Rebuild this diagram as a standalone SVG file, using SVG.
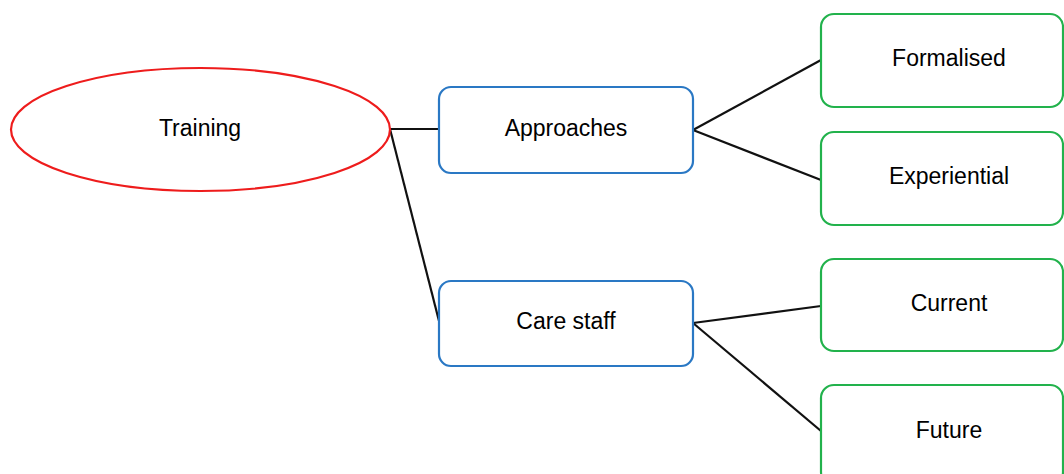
<svg xmlns="http://www.w3.org/2000/svg" width="1064" height="474" viewBox="0 0 1064 474">
<style>
.lbl{font-family:"Liberation Sans","Open Sans",Arial,sans-serif;font-size:23px;fill:#000;text-anchor:middle;dominant-baseline:central}
.blue{fill:#fff;stroke:#2a78c4;stroke-width:2.2}
.green{fill:#fff;stroke:#22b24c;stroke-width:2.2}
.conn{stroke:#111;stroke-width:2.2;fill:none}
</style>
<rect width="1064" height="474" fill="#fff"/>
<g id="connectors">
<line class="conn" x1="390" y1="129" x2="439" y2="129"/>
<line class="conn" x1="390" y1="129" x2="439" y2="321"/>
<line class="conn" x1="693" y1="130" x2="821" y2="60"/>
<line class="conn" x1="693" y1="130" x2="821" y2="180"/>
<line class="conn" x1="693" y1="323" x2="821" y2="306"/>
<line class="conn" x1="693" y1="323" x2="821" y2="431"/>
</g>
<g id="training">
<ellipse cx="200.5" cy="129.5" rx="189.5" ry="61.5" fill="#fff" stroke="#ee1c1c" stroke-width="2.2"/>
<text class="lbl" x="200" y="128">Training</text>
</g>
<g id="approaches">
<rect class="blue" x="439" y="87" width="254" height="86" rx="12"/>
<text class="lbl" x="566" y="128">Approaches</text>
</g>
<g id="carestaff">
<rect class="blue" x="439" y="281" width="254" height="85" rx="12"/>
<text class="lbl" x="566" y="321">Care staff</text>
</g>
<g id="formalised">
<rect class="green" x="821" y="14" width="242" height="93" rx="13"/>
<text class="lbl" x="949" y="58">Formalised</text>
</g>
<g id="experiential">
<rect class="green" x="821" y="132" width="242" height="93" rx="13"/>
<text class="lbl" x="949" y="176">Experiential</text>
</g>
<g id="current">
<rect class="green" x="821" y="259" width="242" height="92" rx="13"/>
<text class="lbl" x="949" y="303">Current</text>
</g>
<g id="future">
<rect class="green" x="821" y="385" width="242" height="100" rx="13"/>
<text class="lbl" x="949" y="430">Future</text>
</g>
</svg>
